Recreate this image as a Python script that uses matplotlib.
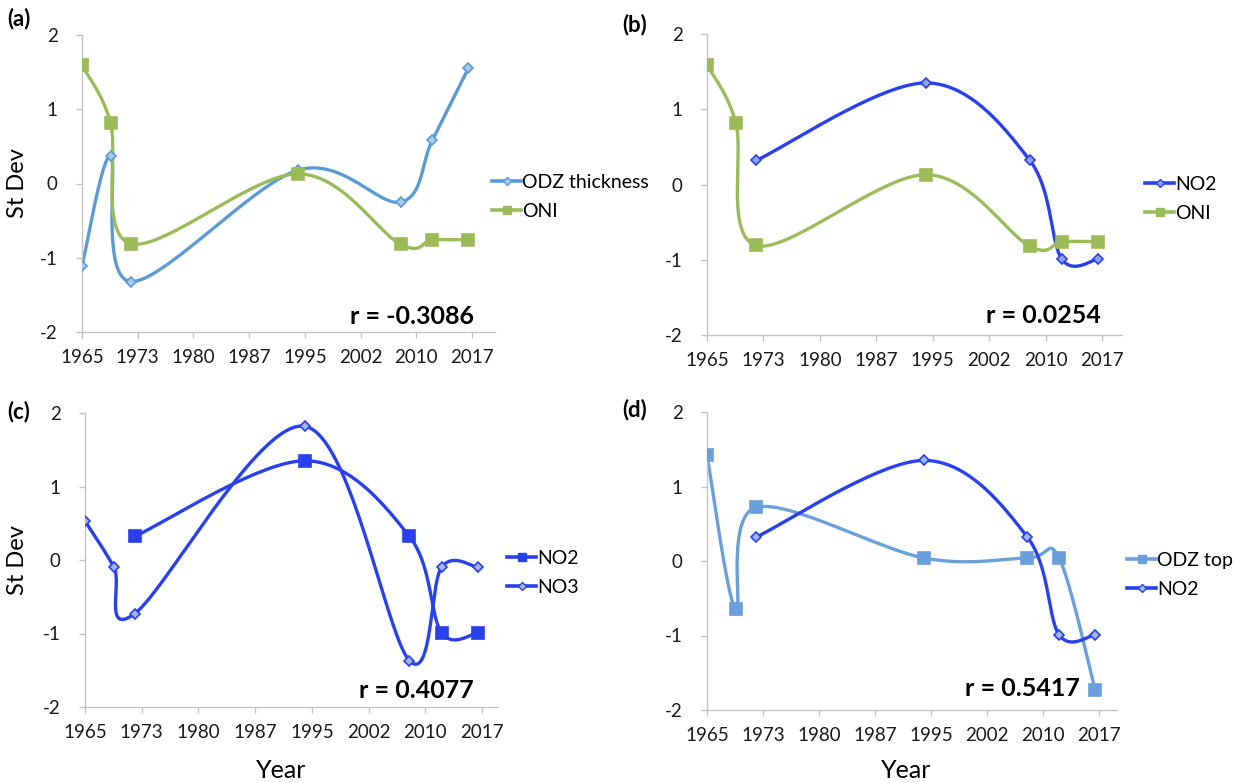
import numpy as np
import matplotlib
matplotlib.use("Agg")
import matplotlib.pyplot as plt

plt.rcParams['font.family'] = ['Lato', 'DejaVu Sans']

# ---- data ----
years = [1965.0, 1968.8, 1971.5, 1993.8, 2007.5, 2011.7, 2016.5]
odz_thickness = [-1.11, 0.37, -1.32, 0.18, -0.25, 0.58, 1.55]
oni = [1.59, 0.82, -0.81, 0.13, -0.82, -0.76, -0.76]
no2_years = [1971.5, 1993.8, 2007.5, 2011.7, 2016.5]
no2 = [0.32, 1.35, 0.32, -0.99, -0.99]
no3 = [0.53, -0.10, -0.73, 1.82, -1.37, -0.10, -0.10]
odz_top = [1.42, -0.65, 0.72, 0.04, 0.04, 0.04, -1.73]

tick_labels = ['1965', '1973', '1980', '1987', '1995', '2002', '2010', '2017']
r_values = ['r = -0.3086', 'r = 0.0254', 'r = 0.4077', 'r = 0.5417']
panel_labels = ['(a)', '(b)', '(c)', '(d)']

W, H = 1249, 783
fig = plt.figure(figsize=(W / 100, H / 100), dpi=100)

C_ODZ = '#5b9bd5'
C_ONI = '#9bbb59'
C_NO2 = '#2940ee'
C_TOP = '#6a9fdc'


def smooth(x, y, n=40):
    """Excel-like smoothed line (Catmull-Rom -> cubic Bezier)."""
    P = np.column_stack([x, y]).astype(float)
    m = len(P)
    out = []
    for i in range(m - 1):
        p0 = P[i - 1] if i > 0 else P[i]
        p1 = P[i]
        p2 = P[i + 1]
        p3 = P[i + 2] if i + 2 < m else P[i + 1]
        c1 = p1 + (p2 - p0) / 6.0
        c2 = p2 - (p3 - p1) / 6.0
        t = np.linspace(0, 1, n)[:, None]
        seg = ((1 - t) ** 3) * p1 + 3 * ((1 - t) ** 2) * t * c1 + 3 * (1 - t) * t ** 2 * c2 + t ** 3 * p2
        out.append(seg if i == 0 else seg[1:])
    s = np.vstack(out)
    return s[:, 0], s[:, 1]


def px_axes(x1965, x2017, xend, ytop, ybot):
    left = x1965 / W
    width = (xend - x1965) / W
    bottom = 1 - ybot / H
    height = (ybot - ytop) / H
    ax = fig.add_axes([left, bottom, width, height])
    ppy = (x2017 - x1965) / 52.0
    ax.set_xlim(1965, 1965 + (xend - x1965) / ppy)
    ax.set_ylim(-2, 2)
    return ax


def style(ax):
    for s in ['top', 'right']:
        ax.spines[s].set_visible(False)
    for s in ['left', 'bottom']:
        ax.spines[s].set_color('#c4c4c4')
        ax.spines[s].set_linewidth(1.0)
    ax.set_xticks(np.linspace(1965, 2017, 8))
    ax.set_xticklabels(tick_labels)
    ax.set_yticks([-2, -1, 0, 1, 2])
    ax.set_yticklabels(['-2', '-1', '0', '1', '2'])
    ax.tick_params(axis='both', colors='#c4c4c4', labelcolor='#1a1a1a', labelsize=13.5,
                   length=4.5, width=1.0)
    ax.tick_params(axis='x', pad=8)
    ax.tick_params(axis='y', pad=13)


def series(ax, x, y, color, marker, mfc, ms, label):
    sx, sy = smooth(x, y)
    ax.plot(sx, sy, color=color, lw=2.4, solid_capstyle='round', zorder=2)
    ax.plot(x, y, linestyle='none', marker=marker, ms=ms, mfc=mfc, mec=color,
            mew=1.2, zorder=3)
    h, = ax.plot([], [], color=color, lw=2.6, marker=marker, ms=ms * 0.8, mfc=mfc,
                 mec=color, mew=1.0, label=label)
    return h


def legend(ax, fx, fy):
    ax.legend(loc='center left', bbox_to_anchor=(fx / W, 1 - fy / H),
              bbox_transform=fig.transFigure, frameon=False, fontsize=14,
              handlelength=1.5, handletextpad=0.05, labelspacing=0.6,
              borderpad=0, borderaxespad=0)


def ftext(x, y, s, **kw):
    fig.text(x / W, 1 - y / H, s, **kw)


# (a)
axa = px_axes(82, 472, 495, 35, 332)
style(axa)
series(axa, years, odz_thickness, C_ODZ, 'D', '#a9c8ea', 5.5, 'ODZ thickness')
series(axa, years, oni, C_ONI, 's', C_ONI, 8, 'ONI')
legend(axa, 492, 197)

# (b)
axb = px_axes(707, 1102, 1122, 34, 335)
style(axb)
series(axb, no2_years, no2, C_NO2, 'D', '#8fa4f0', 5.5, 'NO2')
series(axb, years, oni, C_ONI, 's', C_ONI, 8, 'ONI')
legend(axb, 1145, 199)

# (c)
axc = px_axes(85, 482, 497, 413, 707)
style(axc)
series(axc, no2_years, no2, C_NO2, 's', C_NO2, 8, 'NO2')
series(axc, years, no3, C_NO2, 'D', '#a3b6e4', 5.5, 'NO3')
legend(axc, 507, 573)

# (d)
axd = px_axes(707, 1099, 1117, 412, 710)
style(axd)
series(axd, years, odz_top, C_TOP, 's', C_TOP, 8, 'ODZ top')
series(axd, no2_years, no2, C_NO2, 'D', '#a3b6e4', 5.5, 'NO2')
legend(axd, 1127, 575)

# correlation annotations
for (px, py), r in zip([(474, 317), (1101, 315), (474, 690), (1080, 689)], r_values):
    ftext(px, py, r, ha='right', va='center', fontsize=18, fontweight='bold')

# axis titles
for py in [183, 560]:
    ftext(17, py, 'St Dev', ha='center', va='center', rotation=90, fontsize=17)
for px in [281, 906]:
    ftext(px, 770, 'Year', ha='center', va='center', fontsize=18)

# panel letters
for (px, py), lab in zip([(7, 19), (622, 25), (7, 412), (622, 410)], panel_labels):
    ftext(px, py, lab, ha='left', va='center', fontsize=16, fontweight='bold')

fig.savefig('out.png', dpi=100, facecolor='white')
